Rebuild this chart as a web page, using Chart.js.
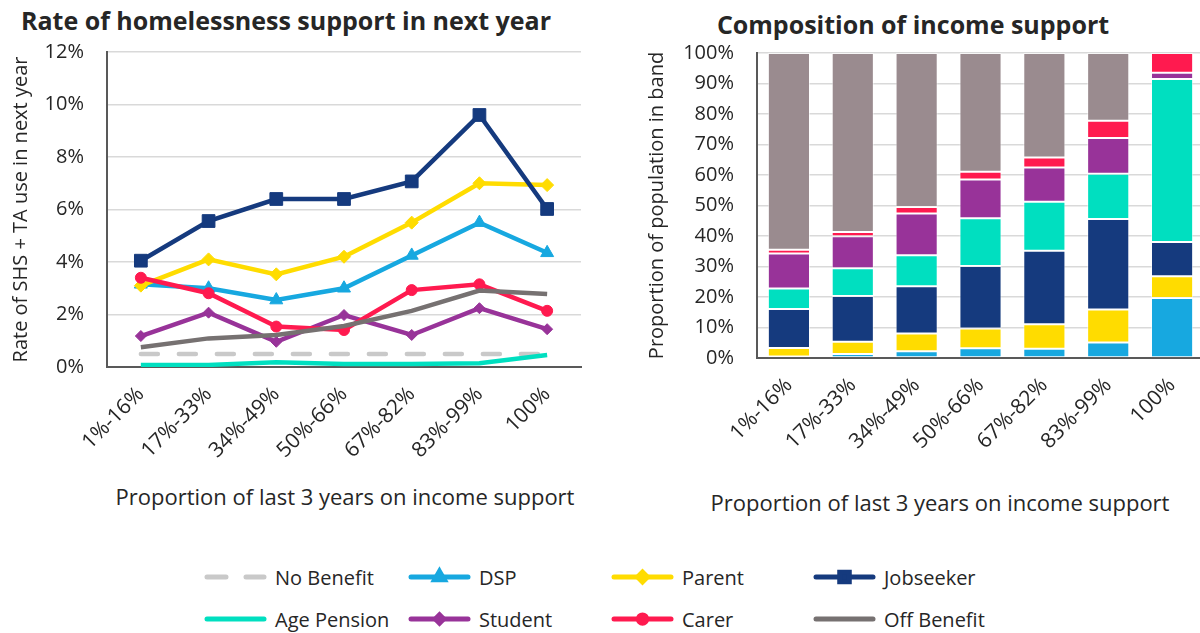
<!DOCTYPE html>
<html>
<head>
<meta charset="utf-8">
<script src="https://cdn.jsdelivr.net/npm/chart.js@4.4.1/dist/chart.umd.min.js"></script>
<style>
  html, body { margin: 0; padding: 0; background: #fff; overflow: hidden; width: 1200px; height: 633px; }
  body { position: relative; font-family: "Open Sans", sans-serif; color: #262626; }
  .title { position: absolute; font-weight: bold; font-size: 25px; white-space: nowrap; transform: translate(-50%, -50%); }
  .axis-title { position: absolute; font-size: 22px; white-space: nowrap; transform: translate(-50%, -50%); }
  #rateChart { position: absolute; left: 0; top: 0; }
  #compChart { position: absolute; left: 600px; top: 0; }
  .legend-item { position: absolute; height: 24px; display: flex; align-items: center; font-size: 20px; white-space: nowrap; transform: translateY(-50%); }
  .legend-item canvas { margin-right: 8px; }
</style>
</head>
<body>
<div class="title" style="left:286px; top:20px;">Rate of homelessness support in next year</div>
<div class="title" style="left:913px; top:24px;">Composition of income support</div>
<canvas id="rateChart" width="600" height="460"></canvas>
<canvas id="compChart" width="610" height="460"></canvas>
<div class="axis-title" style="left:345px; top:496px;">Proportion of last 3 years on income support</div>
<div class="axis-title" style="left:940px; top:502px;">Proportion of last 3 years on income support</div>
<div id="legend"></div>

<script>
const bands = ['1%-16%', '17%-33%', '34%-49%', '50%-66%', '67%-82%', '83%-99%', '100%'];

// rate of SHS + TA use in next year (%)
const noBenefitRate   = [0.5, 0.5, 0.5, 0.5, 0.5, 0.5, 0.5];
const dspRate         = [3.15, 3.0, 2.55, 3.0, 4.25, 5.5, 4.35];
const parentRate      = [3.1, 4.1, 3.53, 4.2, 5.5, 7.0, 6.93];
const jobseekerRate   = [4.05, 5.56, 6.4, 6.4, 7.07, 9.6, 6.02];
const agePensionRate  = [0.08, 0.08, 0.18, 0.11, 0.11, 0.14, 0.46];
const studentRate     = [1.18, 2.07, 0.96, 1.98, 1.22, 2.24, 1.44];
const carerRate       = [3.4, 2.81, 1.54, 1.41, 2.93, 3.15, 2.14];
const offBenefitRate  = [0.75, 1.09, 1.22, 1.56, 2.14, 2.91, 2.78];

// share of population in each band (%)
const dspShare        = [0.5, 1.3, 2.2, 3.2, 3.0, 5.1, 19.7];
const parentShare     = [2.8, 4.0, 5.8, 6.5, 8.1, 10.8, 7.1];
const jobseekerShare  = [12.8, 15.0, 15.5, 20.5, 24.1, 29.7, 11.2];
const agePensionShare = [6.7, 9.1, 10.2, 15.6, 16.0, 14.8, 53.5];
const studentShare    = [11.5, 10.5, 13.7, 12.7, 11.3, 11.7, 2.0];
const carerShare      = [1.2, 1.4, 2.1, 2.6, 3.2, 5.7, 6.5];
const offBenefitShare = [64.5, 58.7, 50.5, 38.9, 34.3, 22.2, 0];

const rateTicks = [0, 2, 4, 6, 8, 10, 12];
const shareTicks = [0, 10, 20, 30, 40, 50, 60, 70, 80, 90, 100];

const C = {
  noBenefit: '#c9c9c9',
  dsp: '#17a8e0',
  parent: '#ffdc00',
  jobseeker: '#153a7e',
  agePension: '#00dfc0',
  student: '#983399',
  carer: '#ff1a4f',
  offBenefit: '#767171',
  offBenefitBar: '#9a8b8f'
};

const FONT = '"Open Sans", sans-serif';
const TEXT = '#262626';
const GRID = '#d9d9d9';
const AXIS = '#595959';

const series = [
  { label: 'No Benefit',  data: noBenefitRate,  color: C.noBenefit,  style: false,     r: 0, dash: [17, 21] },
  { label: 'DSP',         data: dspRate,        color: C.dsp,        style: 'triangle', r: 7.5 },
  { label: 'Parent',      data: parentRate,     color: C.parent,     style: 'rectRot',  r: 6.5 },
  { label: 'Jobseeker',   data: jobseekerRate,  color: C.jobseeker,  style: 'rect',     r: 9 },
  { label: 'Age Pension', data: agePensionRate, color: C.agePension, style: false,     r: 0 },
  { label: 'Student',     data: studentRate,    color: C.student,    style: 'rectRot',  r: 5.5 },
  { label: 'Carer',       data: carerRate,      color: C.carer,      style: 'circle',   r: 5.5 },
  { label: 'Off Benefit', data: offBenefitRate, color: C.offBenefit, style: false,     r: 0 }
];

function fixSize(w, h) {
  return function (scale) {
    if (w != null) scale.width = w;
    if (h != null) scale.height = h;
  };
}

const bandTicks = { color: TEXT, font: { family: FONT, size: 21 }, minRotation: 45, maxRotation: 45, padding: 15 };

new Chart(document.getElementById('rateChart'), {
  type: 'line',
  data: {
    labels: bands,
    datasets: series.map((s, i) => ({
      label: s.label,
      data: s.data,
      borderColor: s.color,
      backgroundColor: s.color,
      borderWidth: 4.5,
      borderDash: s.dash || [],
      borderCapStyle: s.dash ? 'round' : 'butt',
      pointStyle: s.style || 'circle',
      pointRadius: s.r,
      pointHoverRadius: s.r,
      pointBorderWidth: 1,
      fill: false,
      tension: 0,
      order: series.length - i
    }))
  },
  options: {
    responsive: false,
    animation: false,
    layout: { padding: { left: 6, top: 52, right: 19, bottom: 0 } },
    plugins: { legend: { display: false }, tooltip: { enabled: false } },
    scales: {
      x: {
        offset: true,
        afterFit: fixSize(null, 93),
        grid: { display: false, drawTicks: false },
        border: { display: true, color: AXIS, width: 2 },
        ticks: bandTicks
      },
      y: {
        min: 0, max: 12,
        afterFit: fixSize(101, null),
        afterBuildTicks: scale => { scale.ticks = rateTicks.map(v => ({ value: v })); },
        grid: { color: GRID, lineWidth: 1.5, drawTicks: false },
        border: { display: true, color: AXIS, width: 2 },
        ticks: { color: TEXT, font: { family: FONT, size: 20 }, padding: 23, callback: v => v + '%' },
        title: { display: true, text: 'Rate of SHS + TA use in next year', color: TEXT, font: { family: FONT, size: 20 }, padding: { top: 3, bottom: 0 } }
      }
    }
  }
});

const stacks = [
  { label: 'DSP',         data: dspShare,        color: C.dsp },
  { label: 'Parent',      data: parentShare,     color: C.parent },
  { label: 'Jobseeker',   data: jobseekerShare,  color: C.jobseeker },
  { label: 'Age Pension', data: agePensionShare, color: C.agePension },
  { label: 'Student',     data: studentShare,    color: C.student },
  { label: 'Carer',       data: carerShare,      color: C.carer },
  { label: 'Off Benefit', data: offBenefitShare, color: C.offBenefitBar }
];

new Chart(document.getElementById('compChart'), {
  type: 'bar',
  data: {
    labels: bands,
    datasets: stacks.map(s => ({
      label: s.label,
      data: s.data,
      backgroundColor: s.color,
      borderColor: 'rgba(255,255,255,0.55)',
      borderWidth: 1,
      borderSkipped: false,
      barPercentage: 0.66,
      categoryPercentage: 1
    }))
  },
  options: {
    responsive: false,
    animation: false,
    layout: { padding: { left: 42, top: 53, right: 6, bottom: 0 } },
    plugins: { legend: { display: false }, tooltip: { enabled: false } },
    scales: {
      x: {
        stacked: true,
        afterFit: fixSize(null, 102),
        grid: { display: false, drawTicks: false },
        border: { display: true, color: AXIS, width: 2 },
        ticks: bandTicks
      },
      y: {
        stacked: true,
        min: 0, max: 100,
        afterFit: fixSize(115, null),
        afterBuildTicks: scale => { scale.ticks = shareTicks.map(v => ({ value: v })); },
        grid: { color: GRID, lineWidth: 1.5, drawTicks: false },
        border: { display: true, color: AXIS, width: 2 },
        ticks: { color: TEXT, font: { family: FONT, size: 20 }, padding: 23, callback: v => v + '%' },
        title: { display: true, text: 'Proportion of population in band', color: TEXT, font: { family: FONT, size: 20 }, padding: { top: 3, bottom: 0 } }
      }
    }
  }
});

// shared legend: line sample with the series marker in the middle
const legendCols = [204, 408, 611, 813];
const legendRows = [577, 619];
const legendEl = document.getElementById('legend');

series.forEach((s, i) => {
  const item = document.createElement('div');
  item.className = 'legend-item';
  item.style.left = legendCols[i % 4] + 'px';
  item.style.top = legendRows[Math.floor(i / 4)] + 'px';

  const c = document.createElement('canvas');
  c.width = 63; c.height = 24;
  const ctx = c.getContext('2d');
  ctx.strokeStyle = s.color;
  ctx.fillStyle = s.color;
  ctx.lineWidth = 5;
  ctx.lineCap = 'round';
  if (s.dash) ctx.setLineDash([19, 20]);
  ctx.beginPath();
  ctx.moveTo(3, 12);
  ctx.lineTo(60, 12);
  ctx.stroke();
  ctx.setLineDash([]);
  if (s.style) {
    Chart.helpers.drawPoint(ctx, { pointStyle: s.style, radius: s.r * 0.75, borderWidth: 1, rotation: 0 }, 31.5, 12);
  }

  const txt = document.createElement('span');
  txt.textContent = s.label;
  item.appendChild(c);
  item.appendChild(txt);
  legendEl.appendChild(item);
});
</script>
</body>
</html>
